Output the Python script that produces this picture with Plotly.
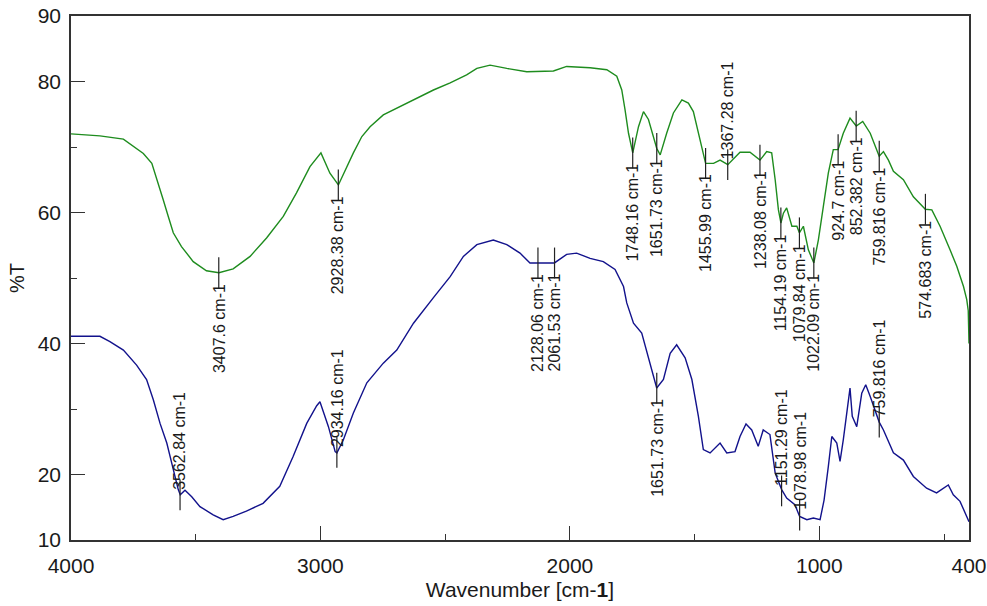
import plotly.graph_objects as go

# ---------------- data ----------------
green_wn = [4000, 3884, 3790, 3750, 3710, 3676, 3650, 3630, 3610, 3590, 3557, 3510, 3457, 3407,
            3350, 3282, 3216, 3149, 3096, 3042, 2998, 2962, 2928, 2868, 2834, 2801, 2748, 2681,
            2614, 2547, 2480, 2414, 2373, 2320, 2253, 2173, 2066, 2013, 1919, 1852, 1812, 1792,
            1779, 1765, 1748, 1725, 1705, 1685, 1652, 1638, 1612, 1585, 1551, 1525, 1505, 1485,
            1465, 1456, 1424, 1398, 1367, 1318, 1278, 1238, 1211, 1191, 1177, 1164, 1154, 1144,
            1131, 1110, 1090, 1080, 1064, 1044, 1022, 1004, 984, 964, 944, 925, 904, 877, 852,
            826, 796, 760, 743, 723, 703, 663, 623, 575, 549, 516, 476, 449, 422, 409, 403, 400]
green_T = [72.0, 71.7, 71.2, 70.1, 69.0, 67.5, 64.5, 61.9, 59.4, 56.9, 54.8, 52.5, 51.1, 50.8,
           51.4, 53.3, 56.1, 59.4, 63.0, 67.0, 69.1, 66.0, 64.2, 69.1, 71.6, 73.1, 74.9, 76.2,
           77.5, 78.7, 79.8, 81.0, 82.0, 82.5, 82.0, 81.5, 81.6, 82.3, 82.1, 81.8, 80.8, 78.7,
           75.7, 72.1, 69.1, 73.1, 75.4, 74.2, 69.8, 68.8, 72.1, 75.2, 77.2, 76.7, 75.4, 72.1,
           68.6, 67.5, 67.5, 68.0, 67.3, 69.2, 69.2, 68.0, 69.3, 69.1, 65.0, 60.4, 58.4, 59.9,
           60.7, 57.9, 57.9, 56.9, 57.9, 54.3, 52.3, 55.8, 60.9, 66.0, 69.6, 69.6, 72.1, 74.4, 73.2,
           73.9, 72.1, 68.6, 69.3, 68.0, 66.3, 65.0, 62.4, 60.5, 60.4, 57.9, 54.3, 51.8, 48.7, 46.7, 45.0, 40.0]

blue_wn = [4000, 3884, 3844, 3790, 3737, 3697, 3670, 3643, 3616, 3590, 3570, 3562, 3543, 3516,
           3483, 3430, 3390, 3350, 3297, 3230, 3163, 3110, 3055, 3015, 3002, 2968, 2941, 2934,
           2908, 2868, 2814, 2748, 2694, 2627, 2587, 2547, 2480, 2427, 2373, 2307, 2253, 2200,
           2160, 2128, 2093, 2062, 2013, 1973, 1919, 1866, 1819, 1785, 1772, 1745, 1712, 1685,
           1652, 1625, 1598, 1572, 1538, 1511, 1485, 1465, 1438, 1398, 1371, 1338, 1318, 1294,
           1271, 1245, 1225, 1198, 1177, 1151, 1131, 1098, 1079, 1050, 1024, 997, 981, 964, 950,
           930, 917, 904, 884, 877, 868, 850, 830, 814, 796, 760, 743, 703, 663, 623, 570, 530,
           483, 463, 436, 409, 400]
blue_T = [41.1, 41.1, 40.3, 39.0, 36.7, 34.5, 31.4, 27.8, 24.8, 20.7, 17.7, 16.9, 17.6, 16.6,
          15.1, 13.85, 13.1, 13.6, 14.4, 15.6, 18.2, 22.7, 27.8, 30.5, 31.1, 27.3, 23.5, 23.3,
          25.3, 29.4, 34.0, 37.0, 39.0, 43.1, 45.1, 47.0, 50.2, 53.3, 55.1, 55.8, 55.1, 53.8,
          52.3, 52.3, 52.3, 52.3, 53.6, 53.8, 53.0, 52.5, 51.3, 48.7, 46.2, 43.1, 41.6, 38.0,
          33.2, 34.5, 38.5, 39.8, 37.8, 34.5, 28.9, 23.8, 23.3, 24.8, 23.3, 23.5, 25.8, 27.7,
          26.8, 24.3, 26.8, 26.1, 20.2, 17.7, 16.4, 15.4, 13.6, 13.1, 13.35, 13.1, 16.1, 21.2, 25.8,
          24.8, 22.0, 25.3, 31.4, 33.2, 28.9, 27.3, 32.4, 33.7, 31.9, 28.0, 26.8, 23.3, 22.2, 19.7,
          17.9, 17.2, 18.4, 16.9, 15.9, 13.6, 12.8]

green_peaks = [3407.6, 2928.38, 1748.16, 1651.73, 1455.99, 1367.28, 1238.08, 1154.19,
               1079.84, 1022.09, 924.7, 852.382, 759.816, 574.683]
green_peak_T = [50.8, 64.2, 69.1, 69.8, 67.5, 67.3, 68.0, 58.4, 56.9, 52.3, 69.6, 73.2, 68.6, 60.5]
green_labels = ["3407.6", "2928.38", "1748.16", "1651.73", "1455.99", "1367.28", "1238.08",
                "1154.19", "1079.84", "1022.09", "924.7", "852.382", "759.816", "574.683"]
green_side = ["below", "below", "below", "below", "below", "above", "below",
              "below", "below", "below", "below", "below", "below", "below"]

blue_peaks = [3562.84, 2934.16, 2128.06, 2061.53, 1651.73, 1151.29, 1078.98, 759.816]
blue_peak_T = [16.9, 23.4, 52.3, 52.3, 33.2, 17.5, 13.8, 28.0]
blue_labels = ["3562.84", "2934.16", "2128.06", "2061.53", "1651.73", "1151.29", "1078.98", "759.816"]
blue_side = ["above", "above", "below", "below", "below", "above", "above", "above"]

x_ticks = [4000, 3000, 2000, 1000, 400]
x_minor = [3500, 2500, 1500, 500]
y_ticks = [10, 20, 40, 60, 80, 90]
y_minor = [30, 50, 70]

GREEN = "#1e8c1e"
BLUE = "#12128c"
INK = "#1a1a1a"
FONT = "Liberation Sans, Arial, sans-serif"

fig = go.Figure()
fig.add_trace(go.Scatter(x=green_wn, y=green_T, mode="lines",
                         line=dict(color=GREEN, width=1.4), hoverinfo="skip"))
fig.add_trace(go.Scatter(x=blue_wn, y=blue_T, mode="lines",
                         line=dict(color=BLUE, width=1.4), hoverinfo="skip"))
# peak tick markers
fig.add_trace(go.Scatter(x=green_peaks + blue_peaks, y=green_peak_T + blue_peak_T, mode="markers",
                         marker=dict(symbol="line-ns", size=22,
                                     line=dict(color="#222", width=1.2)),
                         hoverinfo="skip"))

annotations = []
for xs, ys, labs, sides in [(green_peaks, green_peak_T, green_labels, green_side),
                            (blue_peaks, blue_peak_T, blue_labels, blue_side)]:
    for x, y, lab, side in zip(xs, ys, labs, sides):
        annotations.append(dict(
            x=x, y=y, xref="x", yref="y", text=lab + " cm-1", showarrow=False,
            textangle=-90, xanchor="center",
            yanchor="top" if side == "below" else "bottom",
            yshift=-9 if side == "below" else 3,
            font=dict(family=FONT, size=16, color=INK)))

fig.update_layout(
    width=987, height=606,
    margin=dict(l=71, r=18, t=16, b=66, autoexpand=False),
    paper_bgcolor="white", plot_bgcolor="white",
    showlegend=False,
    annotations=annotations,
    font=dict(family=FONT, color=INK),
    xaxis=dict(
        range=[4000, 400], showgrid=False, zeroline=False, automargin=False,
        showline=True, mirror=True, linecolor="#333", linewidth=1.5,
        ticks="inside", ticklen=14, tickwidth=1.2, tickcolor="#333",
        tickvals=x_ticks, ticktext=[str(v) for v in x_ticks],
        tickfont=dict(size=21, color=INK), ticklabelstandoff=6,
        minor=dict(tickvals=x_minor, ticks="inside", ticklen=6, tickcolor="#333", tickwidth=1.2),
        title=dict(text="Wavenumber [cm-<b>1</b>]", font=dict(size=21, color=INK), standoff=6),
    ),
    yaxis=dict(
        range=[10, 90], showgrid=False, zeroline=False, automargin=False,
        showline=True, mirror=True, linecolor="#333", linewidth=1.5,
        ticks="inside", ticklen=14, tickwidth=1.2, tickcolor="#333",
        tickvals=y_ticks, ticktext=[str(v) for v in y_ticks],
        tickfont=dict(size=21, color=INK), ticklabelstandoff=4,
        minor=dict(tickvals=y_minor, ticks="inside", ticklen=6, tickcolor="#333", tickwidth=1.2),
        title=dict(text="%T", font=dict(size=20, color=INK), standoff=8),
    ),
)

fig.write_html("out.html")
